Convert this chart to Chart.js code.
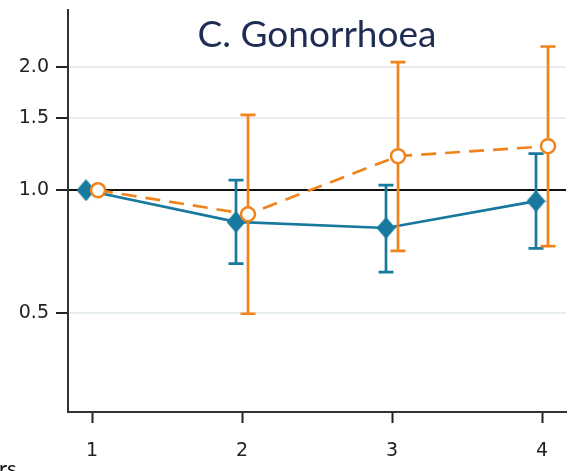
<!DOCTYPE html>
<html>
<head>
<meta charset="utf-8">
<script src="https://cdn.jsdelivr.net/npm/chart.js@4"></script>
<style>
html,body{margin:0;padding:0;background:#fff;}
#wrap{width:576px;height:471px;position:relative;}
</style>
</head>
<body>
<div id="wrap"><canvas id="c" width="576" height="471"></canvas></div>
<script>
// ---- data ----
const categories = [1, 2, 3, 4];
const yTickValues = [0.5, 1.0, 1.5, 2.0];
const titleText = "C. Gonorrhoea";

const seriesAEst = [1.0, 0.836, 0.808, 0.940];
const seriesALo  = [null, 0.661, 0.630, 0.720];
const seriesAHi  = [null, 1.058, 1.029, 1.230];

const seriesBEst = [1.0, 0.873, 1.212, 1.282];
const seriesBLo  = [null, 0.498, 0.710, 0.729];
const seriesBHi  = [null, 1.530, 2.060, 2.250];

// ---- style ----
const BLUE = '#17799e';
const ORANGE = '#f0841a';
const OFFSET = 0.04;

function makeDiamond(w, h, color) {
  const cv = document.createElement('canvas');
  cv.width = w; cv.height = h;
  const g = cv.getContext('2d');
  g.fillStyle = color;
  g.beginPath();
  g.moveTo(w / 2, 0); g.lineTo(w, h / 2); g.lineTo(w / 2, h); g.lineTo(0, h / 2);
  g.closePath(); g.fill();
  return cv;
}
const diamond = makeDiamond(19, 22, BLUE);

function pts(est, off) {
  return categories.map((c, i) => ({x: c + off, y: est[i]}));
}

const errBars = [
  {lo: seriesALo, hi: seriesAHi, off: -OFFSET, color: BLUE},
  {lo: seriesBLo, hi: seriesBHi, off: OFFSET, color: ORANGE}
];

const errorBarPlugin = {
  id: 'errbars',
  beforeDatasetDraw(chart, args) {
    const e = errBars[args.index];
    if (!e) return;
    const xs = chart.scales.x, ys = chart.scales.y, ctx = chart.ctx;
    ctx.save();
    ctx.strokeStyle = e.color;
    ctx.lineWidth = 2.7;
    categories.forEach((c, i) => {
      if (e.lo[i] == null) return;
      const px = xs.getPixelForValue(c + e.off);
      const y1 = ys.getPixelForValue(e.lo[i]);
      const y2 = ys.getPixelForValue(e.hi[i]);
      ctx.beginPath();
      ctx.moveTo(px, y1); ctx.lineTo(px, y2);
      ctx.moveTo(px - 7.5, y1); ctx.lineTo(px + 7.5, y1);
      ctx.moveTo(px - 7.5, y2); ctx.lineTo(px + 7.5, y2);
      ctx.stroke();
    });
    ctx.restore();
  }
};

const textPlugin = {
  id: 'texts',
  afterDraw(chart) {
    const ctx = chart.ctx, a = chart.chartArea;
    ctx.save();
    ctx.fillStyle = '#1f2d55';
    ctx.font = '37px Lato';
    ctx.textAlign = 'center';
    ctx.textBaseline = 'alphabetic';
    ctx.fillText(titleText, (a.left + a.right) / 2, 47);
    ctx.fillStyle = '#111';
    ctx.font = '22px Lato';
    ctx.textAlign = 'left';
    ctx.fillText('rs', -1, 476);
    ctx.restore();
  }
};

new Chart(document.getElementById('c'), {
  type: 'scatter',
  data: {
    datasets: [
      {
        label: 'A',
        data: pts(seriesAEst, -OFFSET),
        showLine: true,
        borderColor: BLUE,
        backgroundColor: BLUE,
        borderWidth: 2.7,
        pointStyle: diamond,
        pointRadius: 10,
        pointBorderWidth: 0,
        pointBackgroundColor: BLUE,
        order: 2
      },
      {
        label: 'B',
        data: pts(seriesBEst, OFFSET),
        showLine: true,
        borderColor: ORANGE,
        backgroundColor: '#fff',
        borderWidth: 2.7,
        borderDash: [15, 9],
        pointStyle: 'circle',
        pointRadius: 7,
        pointBorderWidth: 2.5,
        pointBorderColor: ORANGE,
        pointBackgroundColor: '#fff',
        order: 1
      }
    ]
  },
  options: {
    responsive: false,
    animation: false,
    layout: {padding: {top: 10, right: 7, left: 0, bottom: 0}},
    plugins: {legend: {display: false}, tooltip: {enabled: false}, title: {display: false}},
    scales: {
      x: {
        type: 'linear',
        min: 0.84,
        max: 4.16,
        afterBuildTicks(s) { s.ticks = categories.map(v => ({value: v})); },
        afterFit(s) { s.height = 59; s.paddingLeft = 0; s.paddingRight = 0; },
        grid: {drawOnChartArea: false, tickLength: 11, tickColor: '#222', tickWidth: 2},
        border: {display: true, color: '#333', width: 2},
        ticks: {color: '#222', font: {family: 'DejaVu Sans', size: 19}, padding: 17,
                callback: v => String(v)}
      },
      y: {
        type: 'logarithmic',
        min: 0.286,
        max: 2.765,
        afterBuildTicks(s) { s.ticks = yTickValues.map(v => ({value: v})); },
        afterFit(s) { s.width = 68; s.paddingTop = 0; s.paddingBottom = 0; },
        grid: {
          drawOnChartArea: true,
          color: c => (c.tick && c.tick.value === 1 ? '#111' : '#e6eef1'),
          lineWidth: 2,
          tickLength: 12,
          tickColor: '#222',
          tickWidth: 2
        },
        border: {display: true, color: '#333', width: 2},
        ticks: {color: '#222', font: {family: 'DejaVu Sans', size: 19}, padding: 7,
                callback: v => Number(v).toFixed(1)}
      }
    }
  },
  plugins: [errorBarPlugin, textPlugin]
});
</script>
</body>
</html>
